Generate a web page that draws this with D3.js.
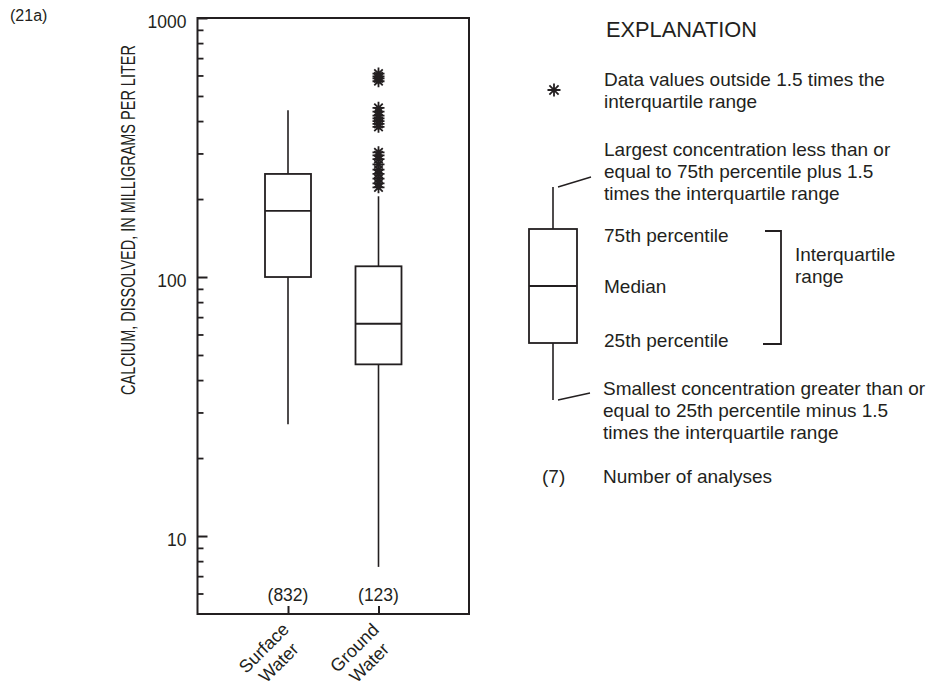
<!DOCTYPE html>
<html>
<head>
<meta charset="utf-8">
<script src="https://cdn.jsdelivr.net/npm/d3@7"></script>
<style>
  html, body { margin: 0; padding: 0; background: #ffffff; }
  svg text { font-family: "Liberation Sans", Arial, Helvetica, sans-serif; fill: #231f20; }
</style>
</head>
<body>
<svg id="chart" width="932" height="691"></svg>
<script>
// Calcium, dissolved (mg/L) — box plot summaries per source
const categories = ["Surface Water", "Ground Water"];
const categoryLines = [["Surface", "Water"], ["Ground", "Water"]];
const analysisCounts = [832, 123];
const whiskerLow = [27, 7.6];
const quartile1 = [100, 46];
const medians = [180, 66];
const quartile3 = [250, 110];
const whiskerHigh = [440, 205];
const outliersSurface = [];
const outliersGround = [222, 230, 240, 250, 260, 272, 285, 295, 303,
                        380, 390, 400, 410, 420, 435, 450,
                        570, 585, 595, 610];
const majorTicks = [10, 100, 1000];

const ink = "#231f20";
const svg = d3.select("#chart");

const plot = { left: 197.5, right: 469, top: 18, bottom: 614 };

const y = d3.scaleLog().domain([5, 1000]).range([plot.bottom, plot.top]);
const x = d3.scalePoint().domain(categories).range([plot.left, plot.right]).padding(1);

// panel label
svg.append("text").attr("x", 10).attr("y", 21).attr("font-size", 16).text("(21a)");

// minor ticks (2–9 of each decade) pointing into the plot
const minorTicks = y.ticks().filter(v => !majorTicks.includes(v) && v > 5);
const minorAxis = d3.axisLeft(y).tickValues(minorTicks).tickSize(-6).tickFormat("");
svg.append("g").attr("transform", `translate(${plot.left},0)`).call(minorAxis)
  .call(g => g.select(".domain").remove())
  .call(g => g.selectAll("line").attr("stroke", ink).attr("stroke-width", 1.8));

// major ticks with labels
const majorAxis = d3.axisLeft(y).tickValues(majorTicks).tickSize(-10).tickPadding(11)
  .tickFormat(d3.format("d"));
svg.append("g").attr("transform", `translate(${plot.left},0)`).call(majorAxis)
  .call(g => g.select(".domain").remove())
  .call(g => g.selectAll("line").attr("stroke", ink).attr("stroke-width", 2))
  .call(g => g.selectAll("text").attr("font-size", 17.5).attr("dy", "0.55em")
    .attr("fill", ink).style("font-family", "'Liberation Sans', Arial, sans-serif"));

// x ticks pointing up from the bottom edge
const xAxis = d3.axisBottom(x).tickSize(-8).tickFormat("");
svg.append("g").attr("transform", `translate(0,${plot.bottom})`).call(xAxis)
  .call(g => g.select(".domain").remove())
  .call(g => g.selectAll("line").attr("stroke", ink).attr("stroke-width", 2));

// frame
svg.append("rect")
  .attr("x", plot.left).attr("y", plot.top)
  .attr("width", plot.right - plot.left).attr("height", plot.bottom - plot.top)
  .attr("fill", "none").attr("stroke", ink).attr("stroke-width", 2);

// y-axis title (narrow lettering)
svg.append("text")
  .attr("transform", `translate(135,220) rotate(-90) scale(0.69,1)`)
  .attr("text-anchor", "middle")
  .attr("font-size", 21)
  .text("CALCIUM, DISSOLVED, IN MILLIGRAMS PER LITER");

// boxes
const halfBox = 23;
const boxes = categories.map((c, i) => ({
  cat: c, lo: whiskerLow[i], q1: quartile1[i], med: medians[i], q3: quartile3[i], hi: whiskerHigh[i]
}));
const bg = svg.append("g");
boxes.forEach(b => {
  const cx = x(b.cat);
  bg.append("line").attr("x1", cx).attr("x2", cx).attr("y1", y(b.q3)).attr("y2", y(b.hi))
    .attr("stroke", ink).attr("stroke-width", 1.6);
  bg.append("line").attr("x1", cx).attr("x2", cx).attr("y1", y(b.q1)).attr("y2", y(b.lo))
    .attr("stroke", ink).attr("stroke-width", 1.6);
  bg.append("rect").attr("x", cx - halfBox).attr("width", halfBox * 2)
    .attr("y", y(b.q3)).attr("height", y(b.q1) - y(b.q3))
    .attr("fill", "none").attr("stroke", ink).attr("stroke-width", 1.8);
  bg.append("line").attr("x1", cx - halfBox).attr("x2", cx + halfBox)
    .attr("y1", y(b.med)).attr("y2", y(b.med))
    .attr("stroke", ink).attr("stroke-width", 1.8);
});

// asterisk marker
function star(g, cx, cy, r) {
  const a = r * Math.SQRT1_2;
  g.append("path")
    .attr("d", `M${cx},${cy - r}V${cy + r}M${cx - r},${cy}H${cx + r}` +
               `M${cx - a},${cy - a}L${cx + a},${cy + a}M${cx - a},${cy + a}L${cx + a},${cy - a}`)
    .attr("stroke", ink).attr("stroke-width", 1.8).attr("fill", "none");
}
const og = svg.append("g");
[outliersSurface, outliersGround].forEach((vals, i) => {
  vals.forEach(v => star(og, x(categories[i]), y(v), 6));
});

// number of analyses
categories.forEach((c, i) => {
  svg.append("text").attr("x", x(c)).attr("y", 601).attr("text-anchor", "middle")
    .attr("font-size", 17.5).text(`(${analysisCounts[i]})`);
});

// rotated category labels
categories.forEach((c, i) => {
  const g = svg.append("g").attr("transform", `translate(${x(c) - 24},${648}) rotate(-45)`);
  categoryLines[i].forEach((t, k) => {
    g.append("text").attr("x", 0).attr("y", 6 + k * 21).attr("text-anchor", "middle")
      .attr("font-size", 18).text(t);
  });
});

// explanation
const lg = svg.append("g");
lg.append("text").attr("x", 606).attr("y", 37).attr("font-size", 21.8).text("EXPLANATION");
const fs = 19;
function lines(x0, y0, arr) {
  arr.forEach((t, k) => lg.append("text").attr("x", x0).attr("y", y0 + k * 22)
    .attr("font-size", fs).text(t));
}
star(lg, 554, 90, 6.5);
lines(604, 86, ["Data values outside 1.5 times the", "interquartile range"]);
lines(604, 156, ["Largest concentration less than or", "equal to 75th percentile plus 1.5",
                 "times the interquartile range"]);

// schematic box
const sx = 553, sTop = 229, sMed = 286, sBot = 343;
lg.append("line").attr("x1", sx).attr("x2", sx).attr("y1", 187).attr("y2", sTop)
  .attr("stroke", ink).attr("stroke-width", 1.6);
lg.append("line").attr("x1", sx).attr("x2", sx).attr("y1", sBot).attr("y2", 400)
  .attr("stroke", ink).attr("stroke-width", 1.6);
lg.append("rect").attr("x", 529).attr("y", sTop).attr("width", 48).attr("height", sBot - sTop)
  .attr("fill", "none").attr("stroke", ink).attr("stroke-width", 1.8);
lg.append("line").attr("x1", 529).attr("x2", 577).attr("y1", sMed).attr("y2", sMed)
  .attr("stroke", ink).attr("stroke-width", 1.8);
lg.append("line").attr("x1", 558).attr("y1", 187).attr("x2", 591).attr("y2", 177)
  .attr("stroke", ink).attr("stroke-width", 1.4);
lg.append("line").attr("x1", 558).attr("y1", 400).attr("x2", 590).attr("y2", 393)
  .attr("stroke", ink).attr("stroke-width", 1.4);

lines(604, 242, ["75th percentile"]);
lines(604, 293, ["Median"]);
lines(604, 347, ["25th percentile"]);
lg.append("path").attr("d", "M765,231H781V344H763")
  .attr("fill", "none").attr("stroke", ink).attr("stroke-width", 1.8);
lines(795, 261, ["Interquartile", "range"]);

lines(603, 395, ["Smallest concentration greater than or", "equal to 25th percentile minus 1.5",
                 "times the interquartile range"]);
lg.append("text").attr("x", 542).attr("y", 483).attr("font-size", fs).text("(7)");
lines(603, 483, ["Number of analyses"]);
</script>
</body>
</html>
